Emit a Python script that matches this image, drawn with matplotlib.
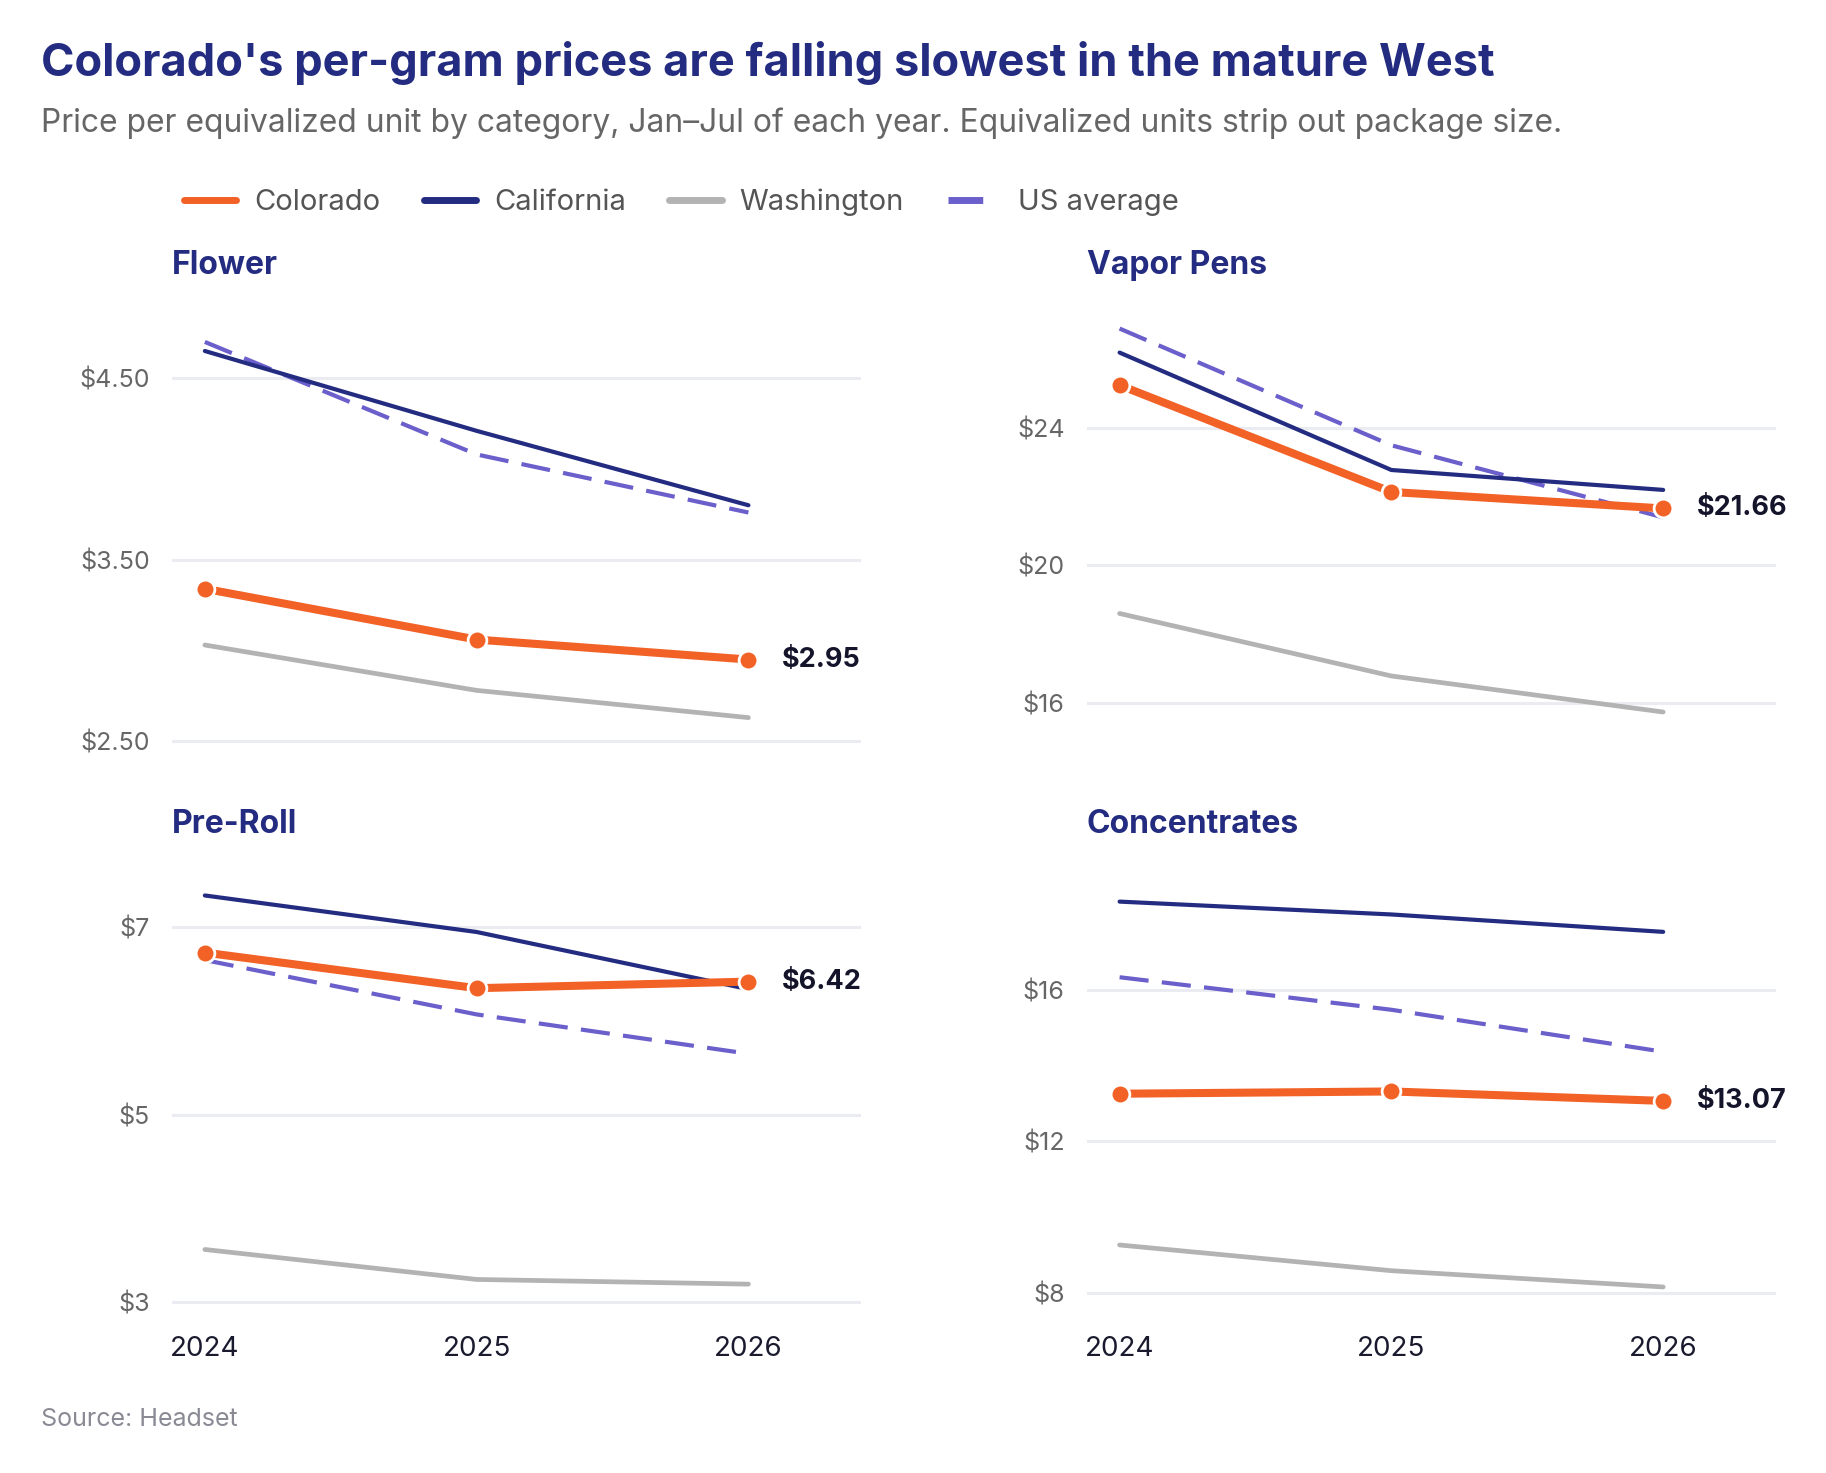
import matplotlib
matplotlib.use("Agg")
import matplotlib.pyplot as plt
from matplotlib.lines import Line2D

FONT = ["Inter", "DejaVu Sans"]
plt.rcParams["font.family"] = FONT

years = [2024, 2025, 2026]
categories = ["Flower", "Vapor Pens", "Pre-Roll", "Concentrates"]

colorado = {
    "Flower": [3.34, 3.06, 2.95],
    "Vapor Pens": [25.25, 22.14, 21.66],
    "Pre-Roll": [6.73, 6.35, 6.42],
    "Concentrates": [13.26, 13.32, 13.07],
}
california = {
    "Flower": [4.65, 4.21, 3.80],
    "Vapor Pens": [26.2, 22.78, 22.2],
    "Pre-Roll": [7.34, 6.95, 6.34],
    "Concentrates": [18.34, 18.0, 17.54],
}
washington = {
    "Flower": [3.03, 2.78, 2.63],
    "Vapor Pens": [18.6, 16.78, 15.73],
    "Pre-Roll": [3.56, 3.24, 3.19],
    "Concentrates": [9.26, 8.58, 8.15],
}
us_average = {
    "Flower": [4.70, 4.08, 3.76],
    "Vapor Pens": [26.9, 23.5, 21.4],
    "Pre-Roll": [6.65, 6.07, 5.65],
    "Concentrates": [16.34, 15.48, 14.37],
}
yticks = {
    "Flower": [2.5, 3.5, 4.5],
    "Vapor Pens": [16, 20, 24],
    "Pre-Roll": [3, 5, 7],
    "Concentrates": [8, 12, 16],
}
ytick_labels = {
    "Flower": ["$2.50", "$3.50", "$4.50"],
    "Vapor Pens": ["$16", "$20", "$24"],
    "Pre-Roll": ["$3", "$5", "$7"],
    "Concentrates": ["$8", "$12", "$16"],
}
end_labels = {"Flower": "$2.95", "Vapor Pens": "$21.66", "Pre-Roll": "$6.42", "Concentrates": "$13.07"}
ylims = {
    "Flower": (2.449, 4.853),
    "Vapor Pens": (14.61, 27.32),
    "Pre-Roll": (2.863, 7.646),
    "Concentrates": (7.415, 19.26),
}

C_CO = "#F26125"
C_CA = "#232C80"
C_WA = "#B3B3B3"
C_US = "#6A5FCB"
C_TITLE = "#232C80"
C_GRID = "#EBEBF2"

W, H = 1569.0, 1266.0
fig = plt.figure(figsize=(18.26, 14.73), dpi=100)
fig.patch.set_facecolor("white")

def fx(x):
    return x / W

def fy(y):
    return 1 - y / H

fig.text(fx(35), fy(54), "Colorado's per-gram prices are falling slowest in the mature West",
         fontsize=32.5, fontweight="bold", color=C_TITLE, va="center", ha="left")
fig.text(fx(35), fy(106), "Price per equivalized unit by category, Jan\u2013Jul of each year. Equivalized units strip out package size.",
         fontsize=22.9, color="#666666", va="center", ha="left")
fig.text(fx(35), fy(1220), "Source: Headset", fontsize=18, color="#8A8A95", va="center", ha="left")

lefts = {"Flower": 148, "Vapor Pens": 934, "Pre-Roll": 148, "Concentrates": 934}
tops = {"Flower": 270, "Vapor Pens": 270, "Pre-Roll": 745, "Concentrates": 745}
bottoms = {"Flower": 645, "Vapor Pens": 645, "Pre-Roll": 1130, "Concentrates": 1130}
title_y = {"Flower": 228, "Vapor Pens": 228, "Pre-Roll": 709, "Concentrates": 709}
bottom_row = {"Flower": False, "Vapor Pens": False, "Pre-Roll": True, "Concentrates": True}
ax_w = 592

for cat in categories:
    l = lefts[cat]
    t = tops[cat]
    b = bottoms[cat]
    ax = fig.add_axes([fx(l), fy(b), ax_w / W, (b - t) / H])
    ax.set_xlim(2023.88, 2026.415)
    ax.set_ylim(*ylims[cat])
    for s in ax.spines.values():
        s.set_visible(False)
    ax.set_yticks(yticks[cat])
    ax.set_yticklabels(ytick_labels[cat])
    ax.set_xticks(years)
    if bottom_row[cat]:
        ax.set_xticklabels([str(y) for y in years])
    else:
        ax.set_xticklabels([])
    ax.tick_params(axis="y", length=0, pad=16, labelsize=18, labelcolor="#666666")
    ax.tick_params(axis="x", length=0, pad=15, labelsize=20, labelcolor="#1A1A2E")
    ax.grid(axis="y", color=C_GRID, linewidth=2.2)
    ax.set_axisbelow(True)
    ax.plot(years, washington[cat], color=C_WA, lw=3.4, solid_capstyle="round", solid_joinstyle="round", zorder=2)
    ax.plot(years, us_average[cat], color=C_US, lw=3.0, dashes=(7, 3.2), zorder=3)
    ax.plot(years, california[cat], color=C_CA, lw=3.0, solid_capstyle="round", solid_joinstyle="round", zorder=4)
    ax.plot(years, colorado[cat], color=C_CO, lw=5.8, solid_capstyle="round", solid_joinstyle="round",
            marker="o", markersize=13.5, markerfacecolor=C_CO, markeredgecolor="white", markeredgewidth=2, zorder=5)
    ax.annotate(end_labels[cat], xy=(years[-1], colorado[cat][-1]), xytext=(24, 0),
                textcoords="offset points", fontsize=19.5, fontweight="bold", color="#14142B",
                va="center", ha="left", annotation_clip=False)
    fig.text(fx(l), fy(title_y[cat]), cat, fontsize=23, fontweight="bold", color=C_TITLE, va="center", ha="left")

handles = [
    Line2D([], [], color=C_CO, lw=5, solid_capstyle="round"),
    Line2D([], [], color=C_CA, lw=5, solid_capstyle="round"),
    Line2D([], [], color=C_WA, lw=5, solid_capstyle="round"),
    Line2D([], [], color=C_US, lw=5, dashes=(5, 2.5)),
]
labels = ["Colorado", "California", "Washington", "US average"]
leg = fig.legend(handles, labels, loc="center left", bbox_to_anchor=(fx(158), fy(174)), ncol=4,
                 frameon=False, fontsize=21, handlelength=1.8, handletextpad=0.6, columnspacing=1.5,
                 borderaxespad=0, borderpad=0)
for tx in leg.get_texts():
    tx.set_color("#555555")

fig.savefig("out.png", dpi=100, facecolor="white")
